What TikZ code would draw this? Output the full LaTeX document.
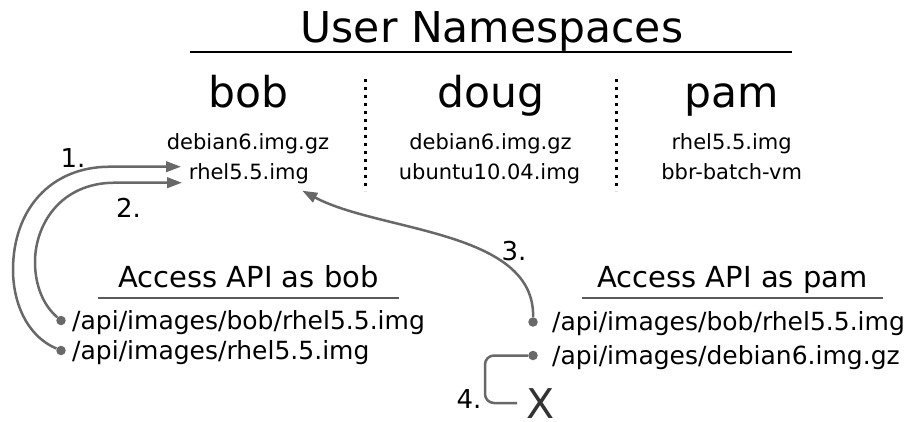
\documentclass[tikz,border=0pt]{standalone}
\usepackage{fontspec}
\setmainfont{DejaVu Sans}
\usetikzlibrary{arrows.meta}
\definecolor{linkgray}{RGB}{104,104,104}
\definecolor{rulegray}{RGB}{90,90,90}
\begin{document}
\begin{tikzpicture}[x=1pt,y=-1pt,
  txt/.style={inner sep=0pt, anchor=base},
  big/.style={txt, font=\fontsize{42.5}{50}\selectfont},
  small/.style={txt, font=\fontsize{21}{25}\selectfont},
  access/.style={txt, font=\fontsize{29}{34}\selectfont},
  apipath/.style={inner sep=0pt, anchor=base west, font=\fontsize{25}{30}\selectfont},
  steplabel/.style={inner sep=0pt, anchor=base west, font=\fontsize{26}{31}\selectfont},
  dot/.style={circle, fill=linkgray, inner sep=0pt, minimum size=9.5pt},
  conn/.style={draw=linkgray, line width=2.5pt},
  tip/.style={-{Triangle[length=15pt,width=10.5pt]}},
  sep/.style={line width=3pt, dash pattern=on 3pt off 5pt}
]
\useasboundingbox (0,0) rectangle (907,421);

% heading
\node[big] (title) at (492,42.7) {User Namespaces};
\draw[line width=2.4pt] (190,51.7) -- (792,51.7);

% user namespaces
\node[big] (bob)  at (248.5,107.7) {bob};
\node[big] (doug) at (491,107.7) {doug};
\node[big] (pam)  at (732,107.7) {pam};

\node[small] (bobdeb)  at (248,149.3) {debian6.img.gz};
\node[small] (bobrhel) at (249,179) {rhel5.5.img};
\node[small] (dougdeb) at (490.5,149.3) {debian6.img.gz};
\node[small] (dougubu) at (489.5,179) {ubuntu10.04.img};
\node[small] (pamrhel) at (731.7,149.3) {rhel5.5.img};
\node[small] (pambbr)  at (731.7,179) {bbr-batch-vm};

\draw[sep] (365,79) -- (365,191);
\draw[sep] (616,79) -- (616,191);

% API views
\node[access] (asbob) at (248.5,287.7) {Access API as bob};
\draw[rulegray, line width=2pt] (98,298) -- (399,298);
\node[access] (aspam) at (732.5,287.7) {Access API as pam};
\draw[rulegray, line width=2pt] (582,298) -- (883,298);

\node[apipath] (bobown)   at (72,329)  {/api/images/bob/rhel5.5.img};
\node[apipath] (bobshort) at (72,359)  {/api/images/rhel5.5.img};
\node[apipath] (pambob)   at (552,330) {/api/images/bob/rhel5.5.img};
\node[apipath] (pamdeb)   at (552,364) {/api/images/debian6.img.gz};

\node[dot] (d1) at (61,320.5) {};
\node[dot] (d2) at (61,350.5) {};
\node[dot] (d3) at (533,322) {};
\node[dot] (d4) at (533,355.5) {};

% arrow ends
\coordinate (t1) at (181,166.7);
\coordinate (t2) at (182,182.7);
\coordinate (t3) at (302.3,190.7);
\coordinate (x4) at (517,403);

% resolution steps
\draw[conn, tip] (d2) .. controls (25,335) and (13,300) .. (13,270)
  .. controls (13,210) and (50,166.7) .. (110,166.7) -- (t1);
\draw[conn, tip] (d1) .. controls (43,305) and (35,285) .. (35,262)
  .. controls (35,225) and (60,182.7) .. (115,182.7) -- (t2);
\draw[conn, tip] (d3) .. controls (535,230) and (380,232) .. (t3);
\draw[conn, rounded corners=9pt] (d4) -- (485,355.5) -- (485,403) -- (x4);

\node[steplabel] (s1) at (60.5,167) {1.};
\node[steplabel] (s2) at (116,217) {2.};
\node[steplabel] (s3) at (501.5,260) {3.};
\node[steplabel] (s4) at (456.5,408) {4.};
\node[inner sep=0pt, anchor=base west, text=black!80,
      font=\fontsize{41}{48}\selectfont] (deny) at (526,418) {X};
\end{tikzpicture}
\end{document}
